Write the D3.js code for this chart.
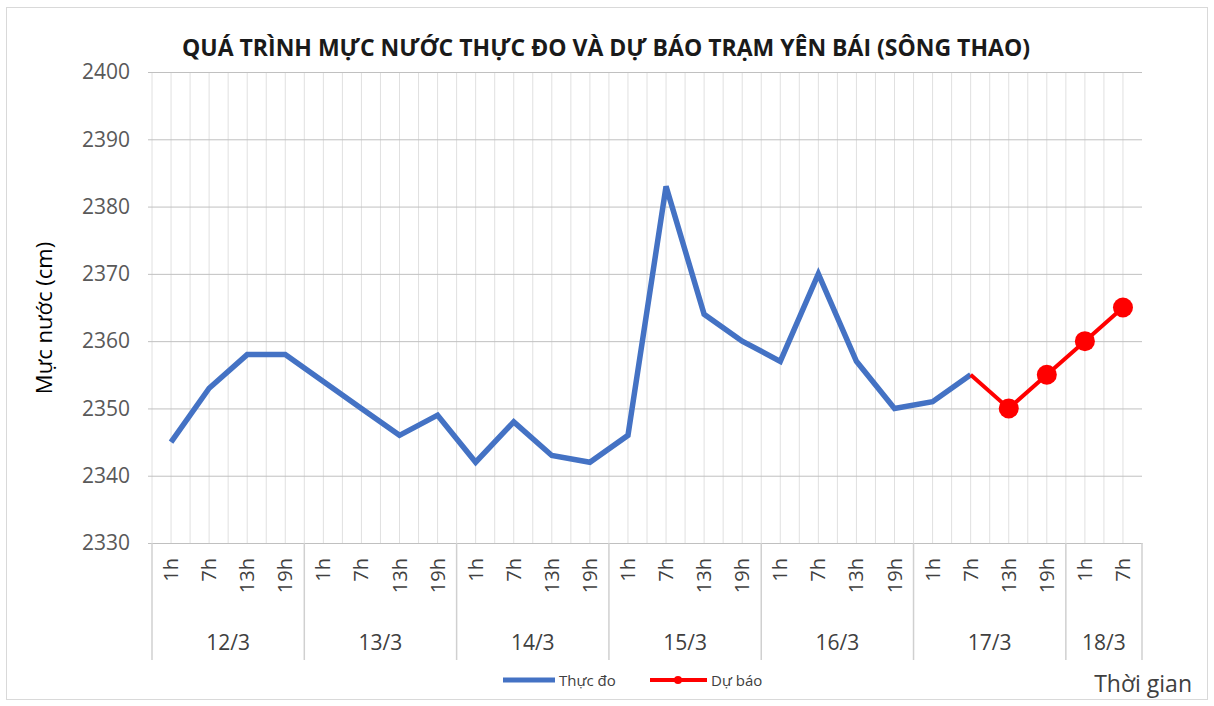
<!DOCTYPE html>
<html>
<head>
<meta charset="utf-8">
<script src="https://cdn.jsdelivr.net/npm/d3@7"></script>
<style>
  body { margin: 0; background: #fff; }
  text { font-family: "Open Sans", "Noto Sans", sans-serif; }
</style>
</head>
<body>
<svg class="chart" width="1214" height="706"></svg>
<script>
// categories (giờ) and day groups
const hours = ["1h", "7h", "13h", "19h"];
const days = ["12/3", "13/3", "14/3", "15/3", "16/3", "17/3", "18/3"];
const dayCounts = [4, 4, 4, 4, 4, 4, 2];

// measured water level (cm), one value per slot from 12/3 1h
const observed = [2345, 2353, 2358, 2358,
                  2354, 2350, 2346, 2349,
                  2342, 2348, 2343, 2342,
                  2346, 2383, 2364, 2360,
                  2357, 2370, 2357, 2350,
                  2351, 2355];
// forecast starts at slot 21 (17/3 7h)
const forecastStart = 21;
const forecast = [2355, 2350, 2355, 2360, 2365];

const yTicks = [2330, 2340, 2350, 2360, 2370, 2380, 2390, 2400];

// build slot list
let slots = [];
days.forEach((d, i) => {
    for (let k = 0; k < dayCounts[i]; k++) slots.push({day: d, hour: hours[k]});
});
slots.forEach((s, i) => s.idx = i);

let svg = d3.select("svg.chart"),
    margin = {top: 72, bottom: 163, left: 152, right: 72},
    W = +svg.attr("width"),
    H = +svg.attr("height");

// outer frame
svg.append("rect")
    .attr("x", 6.5).attr("y", 7.5)
    .attr("width", W - 13).attr("height", H - 14)
    .attr("fill", "#fff")
    .attr("stroke", "#d9d9d9");

let x = d3.scaleBand()
    .domain(slots.map(d => d.idx))
    .range([margin.left, W - margin.right])
    .padding(0);

let y = d3.scaleLinear()
    .domain([2330, 2400])
    .range([H - margin.bottom, margin.top]);

const bw = x.bandwidth();

// vertical grid (category centres and boundaries)
let vg = svg.append("g").attr("class", "vgrid");
slots.forEach(s => {
    [x(s.idx), x(s.idx) + bw / 2].forEach(px => {
        vg.append("line")
            .attr("x1", px).attr("x2", px)
            .attr("y1", y(2400)).attr("y2", y(2330))
            .style("stroke", "#e0e0e0")
            .style("stroke-width", 1);
    });
});

// horizontal grid
svg.append("g")
    .attr("class", "y-grid")
    .attr("transform", "translate(" + (margin.left - 4) + ",0)")
    .call(d3.axisLeft(y).tickValues(yTicks).tickSize(-(W - margin.right - margin.left + 4)).tickFormat(""))
    .call(g => g.select(".domain").remove())
    .call(g => g.selectAll("line").style("stroke", "#c0c0c0"));

// y axis labels
svg.append("g")
    .attr("class", "y-axis")
    .attr("transform", "translate(" + (margin.left - 4) + ",0)")
    .call(d3.axisLeft(y).tickValues(yTicks).tickSize(0).tickPadding(18).tickFormat(d3.format("d")))
    .call(g => g.select(".domain").remove())
    .call(g => g.selectAll("text")
        .style("font-size", "21px")
        .style("fill", "#595959")
        .style("font-family", "'Open Sans', sans-serif"));

// x axis: hour labels
let xAxis = svg.append("g")
    .attr("class", "x-axis")
    .attr("transform", "translate(0," + y(2330) + ")")
    .call(d3.axisBottom(x).tickSize(0).tickFormat(i => slots[i].hour));
xAxis.select(".domain").style("stroke", "#c0c0c0");
xAxis.selectAll("text")
    .attr("transform", "rotate(-90)")
    .attr("x", -15)
    .attr("y", 0)
    .attr("dy", "0.35em")
    .style("text-anchor", "end")
    .style("font-size", "20px")
    .style("fill", "#404040");

// day groups
let dg = svg.append("g").attr("class", "day-groups");
let start = 0;
let bounds = [0];
dayCounts.forEach((c, i) => {
    let x0 = x(start), x1 = x(start + c - 1) + bw;
    dg.append("text")
        .attr("x", (x0 + x1) / 2)
        .attr("y", 650)
        .style("text-anchor", "middle")
        .style("font-size", "21px")
        .style("fill", "#404040")
        .text(days[i]);
    start += c;
    bounds.push(start);
});
bounds.forEach(b => {
    let px = b < slots.length ? x(b) : x(slots.length - 1) + bw;
    dg.append("line")
        .attr("x1", px).attr("x2", px)
        .attr("y1", y(2330)).attr("y2", 660)
        .style("stroke", "#d0d0d0")
        .style("stroke-width", 1.5);
});

// lines
let line = d3.line()
    .x(d => x(d.i) + bw / 2)
    .y(d => y(d.v));

let obsData = observed.map((v, i) => ({i: i, v: v}));
let fcData = forecast.map((v, k) => ({i: forecastStart + k, v: v}));

svg.append("path")
    .datum(obsData)
    .attr("d", line)
    .style("fill", "none")
    .style("stroke", "#4472c4")
    .style("stroke-width", 5.5)
    .style("stroke-linejoin", "miter");

svg.append("path")
    .datum(fcData)
    .attr("d", line)
    .style("fill", "none")
    .style("stroke", "#ff0000")
    .style("stroke-width", 4);

svg.selectAll("circle.fc")
    .data(fcData.slice(1))
    .enter().append("circle")
    .attr("class", "fc")
    .attr("cx", d => x(d.i) + bw / 2)
    .attr("cy", d => y(d.v))
    .attr("r", 10)
    .style("fill", "#ff0000");

// title
svg.append("text")
    .attr("x", 606)
    .attr("y", 56)
    .style("text-anchor", "middle")
    .style("font-size", "23px")
    .style("font-weight", "bold")
    .style("fill", "#1a1a1a")
    .text("QUÁ TRÌNH MỰC NƯỚC THỰC ĐO VÀ DỰ BÁO TRẠM YÊN BÁI (SÔNG THAO)");

// y label
svg.append("text")
    .attr("transform", "translate(52," + 318 + ") rotate(-90)")
    .style("text-anchor", "middle")
    .style("font-size", "22px")
    .style("fill", "#000")
    .text("Mực nước (cm)");

// x label
svg.append("text")
    .attr("x", 1192)
    .attr("y", 692)
    .style("text-anchor", "end")
    .style("font-size", "23px")
    .style("fill", "#404040")
    .text("Thời gian");

// legend
let lg = svg.append("g").attr("class", "legend");
lg.append("line")
    .attr("x1", 503).attr("x2", 555).attr("y1", 680).attr("y2", 680)
    .style("stroke", "#4472c4").style("stroke-width", 5);
lg.append("text")
    .attr("x", 559).attr("y", 686)
    .style("font-size", "15px").style("fill", "#404040")
    .text("Thực đo");
lg.append("line")
    .attr("x1", 650).attr("x2", 707).attr("y1", 680).attr("y2", 680)
    .style("stroke", "#ff0000").style("stroke-width", 4);
lg.append("circle")
    .attr("cx", 678).attr("cy", 680).attr("r", 4)
    .style("fill", "#ff0000");
lg.append("text")
    .attr("x", 711).attr("y", 686)
    .style("font-size", "15px").style("fill", "#404040")
    .text("Dự báo");
</script>
</body>
</html>
